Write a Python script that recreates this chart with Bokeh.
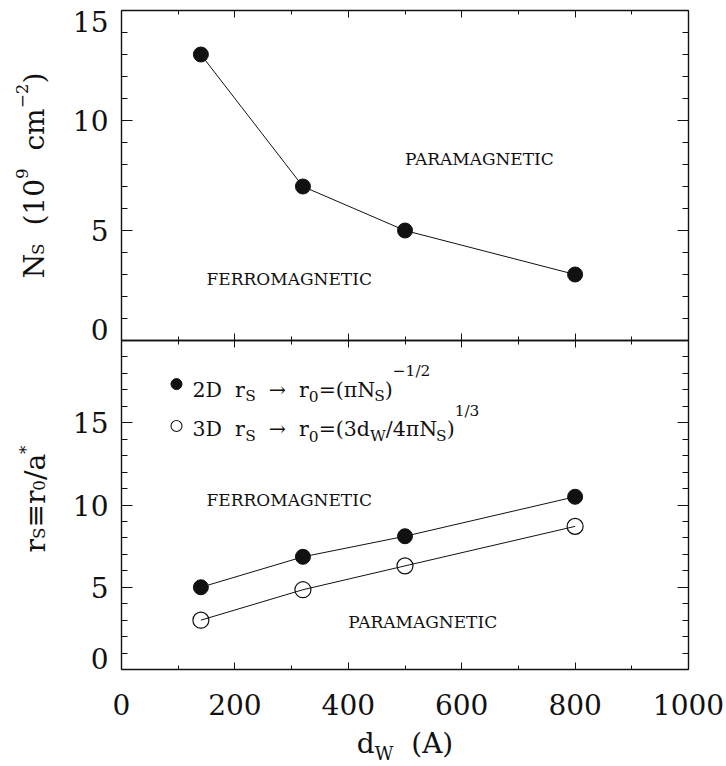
import math

from bokeh.core.properties import value
from bokeh.embed import file_html
from bokeh.models import FixedTicker, Label, LinearAxis, Range1d
from bokeh.plotting import figure
from bokeh.resources import INLINE

# ---------------- data ----------------
well_width = [140, 320, 500, 800]          # d_W (A)
sheet_density = [13.0, 7.0, 5.0, 3.0]      # critical N_S (1e9 cm^-2)
rs_2d = [5.0, 6.85, 8.1, 10.5]             # r_s with r0 = (pi N_S)^-1/2
rs_3d = [3.0, 4.85, 6.3, 8.7]              # r_s with r0 = (3 d_W / 4 pi N_S)^1/3

x_major = [0, 200, 400, 600, 800, 1000]
x_minor = [100, 300, 500, 700, 900]
x_tick_labels = ["0", "200", "400", "600", "800", "1000"]
ns_major = [0, 5, 10, 15]
ns_minor = [1, 2, 3, 4, 6, 7, 8, 9, 11, 12, 13, 14]
ns_tick_labels = ["0", "5", "10", "15"]
rs_major = [0, 5, 10, 15, 20]
rs_minor = [1, 2, 3, 4, 6, 7, 8, 9, 11, 12, 13, 14, 16, 17, 18, 19]
rs_tick_labels = ["0", "5", "10", "15"]

# ---------------- layout (canvas pixels) ----------------
W, H = 726, 766
BOX_L, BOX_R = 121, 688        # left / right edge of both panels
TOP_Y, MID_Y, BOT_Y = 10, 340, 669
X_LO, X_HI = 0, 1000
NS_LO, NS_HI = 0, 15
RS_LO, RS_HI = 0, 20

FONT = "DejaVu Serif"
INK = "#111111"
TICK_FS = "28px"

# approximate advance widths of DejaVu Serif, in em
ADV = {" ": 0.318, "(": 0.390, ")": 0.390, "*": 0.500, "/": 0.337, "=": 0.838,
       "\u2212": 0.838, "\u2192": 0.838, "\u2261": 0.838, "\u03c0": 0.644,
       "A": 0.722, "D": 0.830, "N": 0.837, "S": 0.685, "W": 1.030,
       "a": 0.596, "c": 0.560, "d": 0.640, "m": 0.948, "r": 0.478}
for _d in "0123456789":
    ADV[_d] = 0.636


def span_range(lo, hi, px_lo, px_hi, px_total, flip=False):
    """Range whose [lo, hi] lands on pixels [px_lo, px_hi] of a canvas side."""
    per_px = (hi - lo) / (px_hi - px_lo)
    if flip:   # vertical: pixel rows grow downwards
        return Range1d(lo - (px_total - px_hi) * per_px, hi + px_lo * per_px)
    return Range1d(lo - px_lo * per_px, hi + (px_total - px_hi) * per_px)


p = figure(width=W, height=H,
           x_range=span_range(X_LO, X_HI, BOX_L, BOX_R, W),
           y_range=span_range(RS_LO, RS_HI, MID_Y, BOT_Y, H, flip=True),
           min_border=0, x_axis_location=None, y_axis_location=None,
           toolbar_location=None, output_backend="svg",
           outline_line_color=None, background_fill_color="white",
           border_fill_color="white")
p.extra_y_ranges = {"ns": span_range(NS_LO, NS_HI, TOP_Y, MID_Y, H, flip=True)}
p.grid.grid_line_color = None


def box_axis(side, at, major, minor, major_len, minor_len, bounds, rng="default"):
    ax = LinearAxis(ticker=FixedTicker(ticks=major, minor_ticks=minor),
                    fixed_location=at, bounds=bounds, y_range_name=rng,
                    axis_line_color=INK, axis_line_width=1.4,
                    major_tick_in=major_len, major_tick_out=0,
                    minor_tick_in=minor_len, minor_tick_out=0,
                    major_tick_line_color=INK, minor_tick_line_color=INK,
                    major_tick_line_width=1, minor_tick_line_width=1,
                    major_label_text_font_size="0px",
                    major_label_text_color=None, major_label_standoff=0)
    p.add_layout(ax, side)


def frame(rng, lo, hi, major, minor):
    box_axis("above", hi, x_major, x_minor, 7, 4, (X_LO, X_HI), rng)
    box_axis("below", lo, x_major, x_minor, 7, 4, (X_LO, X_HI), rng)
    box_axis("left", X_LO, major, minor, 11, 6, (lo, hi), rng)
    box_axis("right", X_HI, major, minor, 11, 6, (lo, hi), rng)


def label(x, y, text, size, rng="default", dx=0, dy=0, angle=0.0, align="left"):
    p.add_layout(Label(x=x, y=y, text=text, x_offset=dx, y_offset=dy, angle=angle,
                       y_range_name=rng, text_font=FONT, text_font_size=size,
                       text_color=INK, text_align=align, text_baseline="middle"))


def y_tick_labels(ticks, labels, nudges, rng="default"):
    for t, lab, nudge in zip(ticks, labels, nudges):
        label(X_LO, t, lab, TICK_FS, rng, dx=-13, dy=nudge, align="right")


def rich_label(pieces, x, y, size, ratio, drop, rise, rng="default",
               angle=0.0, align="center", shift_x=0.0, shift_y=0.0):
    """Lay out a run of base / subscript / superscript pieces as one label."""
    placed = []
    pos = 0.0
    for text, role in pieces:
        fs = size if role == "base" else size * ratio
        lead = len(text) - len(text.lstrip(" "))
        trail = len(text) - len(text.rstrip(" "))
        core = text.strip(" ")
        pos += lead * ADV[" "] * fs
        shift = {"base": 0.0, "sub": -drop * size, "sup": rise * size}[role]
        placed.append((core.replace(" ", "\u00a0"), fs, pos, shift))
        pos += sum(ADV.get(c, 0.6) for c in core) * fs
        pos += trail * ADV[" "] * fs
    start = -pos / 2 if align == "center" else 0.0
    for core, fs, along, shift in placed:
        a = start + along
        if angle:  # quarter turn, reading upwards
            dx, dy = -shift, a
        else:
            dx, dy = a, shift
        label(x, y, core, f"{fs:.1f}px", rng, dx=dx + shift_x, dy=dy + shift_y,
              angle=angle)


# ---------------- upper panel: critical density ----------------
frame("ns", NS_LO, NS_HI, ns_major, ns_minor)
y_tick_labels(ns_major, ns_tick_labels, [11, 0, 0, -11], "ns")

p.line(well_width, sheet_density, y_range_name="ns", line_color=INK, line_width=1)
p.scatter(well_width, sheet_density, y_range_name="ns", marker="circle", size=15,
          fill_color=INK, line_color=INK)
p.text(x=[500, 150], y=[8.25, 2.78], text=["PARAMAGNETIC", "FERROMAGNETIC"],
       y_range_name="ns", text_font=value(FONT), text_font_size="17px",
       text_color=INK, text_align="left", text_baseline="middle")

rich_label([("N", "base"), ("S", "sub"), ("  (10", "base"), ("9", "sup"),
            ("  cm", "base"), ("\u22122", "sup"), (")", "base")],
           x=X_LO, y=(NS_LO + NS_HI) / 2, size=28, ratio=0.6, drop=0.14,
           rise=0.45, rng="ns", angle=math.pi / 2, shift_x=-87)

# ---------------- lower panel: r_s ----------------
frame("default", RS_LO, RS_HI, rs_major, rs_minor)
y_tick_labels(rs_major[:4], rs_tick_labels, [11, 0, 0, 0])
for t, lab in zip(x_major, x_tick_labels):
    label(t, RS_LO, lab, TICK_FS, dy=-35, align="center")

p.line(well_width, rs_2d, line_color=INK, line_width=1)
p.line(well_width, rs_3d, line_color=INK, line_width=1)
p.scatter(well_width, rs_2d, marker="circle", size=15, fill_color=INK, line_color=INK)
p.scatter(well_width, rs_3d, marker="circle", size=16, fill_color=None,
          line_color=INK, line_width=1.2)
p.text(x=[150, 400], y=[10.33, 2.89], text=["FERROMAGNETIC", "PARAMAGNETIC"],
       text_font=value(FONT), text_font_size="17px", text_color=INK,
       text_align="left", text_baseline="middle")

# key
p.scatter([97], [17.35], marker="circle", size=11, fill_color=INK, line_color=INK)
p.scatter([97], [14.8], marker="circle", size=11, fill_color=None,
          line_color=INK, line_width=1.1)
rich_label([("2D  r", "base"), ("S", "sub"), ("  \u2192  r", "base"), ("0", "sub"),
            ("=(\u03c0N", "base"), ("S", "sub"), (")", "base"), ("\u22121/2", "sup")],
           x=125, y=17.01, size=20.5, ratio=0.75, drop=0.33, rise=0.9, align="left")
rich_label([("3D  r", "base"), ("S", "sub"), ("  \u2192  r", "base"), ("0", "sub"),
            ("=(3d", "base"), ("W", "sub"), ("/4\u03c0N", "base"), ("S", "sub"),
            (")", "base"), ("1/3", "sup")],
           x=125, y=14.6, size=20.5, ratio=0.75, drop=0.33, rise=0.9, align="left")

# axis titles
rich_label([("r", "base"), ("S", "sub"), ("\u2261r", "base"), ("0", "sub"),
            ("/a", "base"), ("*", "sup")],
           x=X_LO, y=(RS_LO + RS_HI) / 2, size=28, ratio=0.6, drop=0.14,
           rise=0.35, angle=math.pi / 2, shift_x=-86, shift_y=6)
rich_label([("d", "base"), ("W", "sub"), ("  (A)", "base")],
           x=(X_LO + X_HI) / 2, y=RS_LO, size=28, ratio=0.65, drop=0.37, rise=0.5,
           shift_y=-74)

open("out.html", "w").write(file_html(p, INLINE))
